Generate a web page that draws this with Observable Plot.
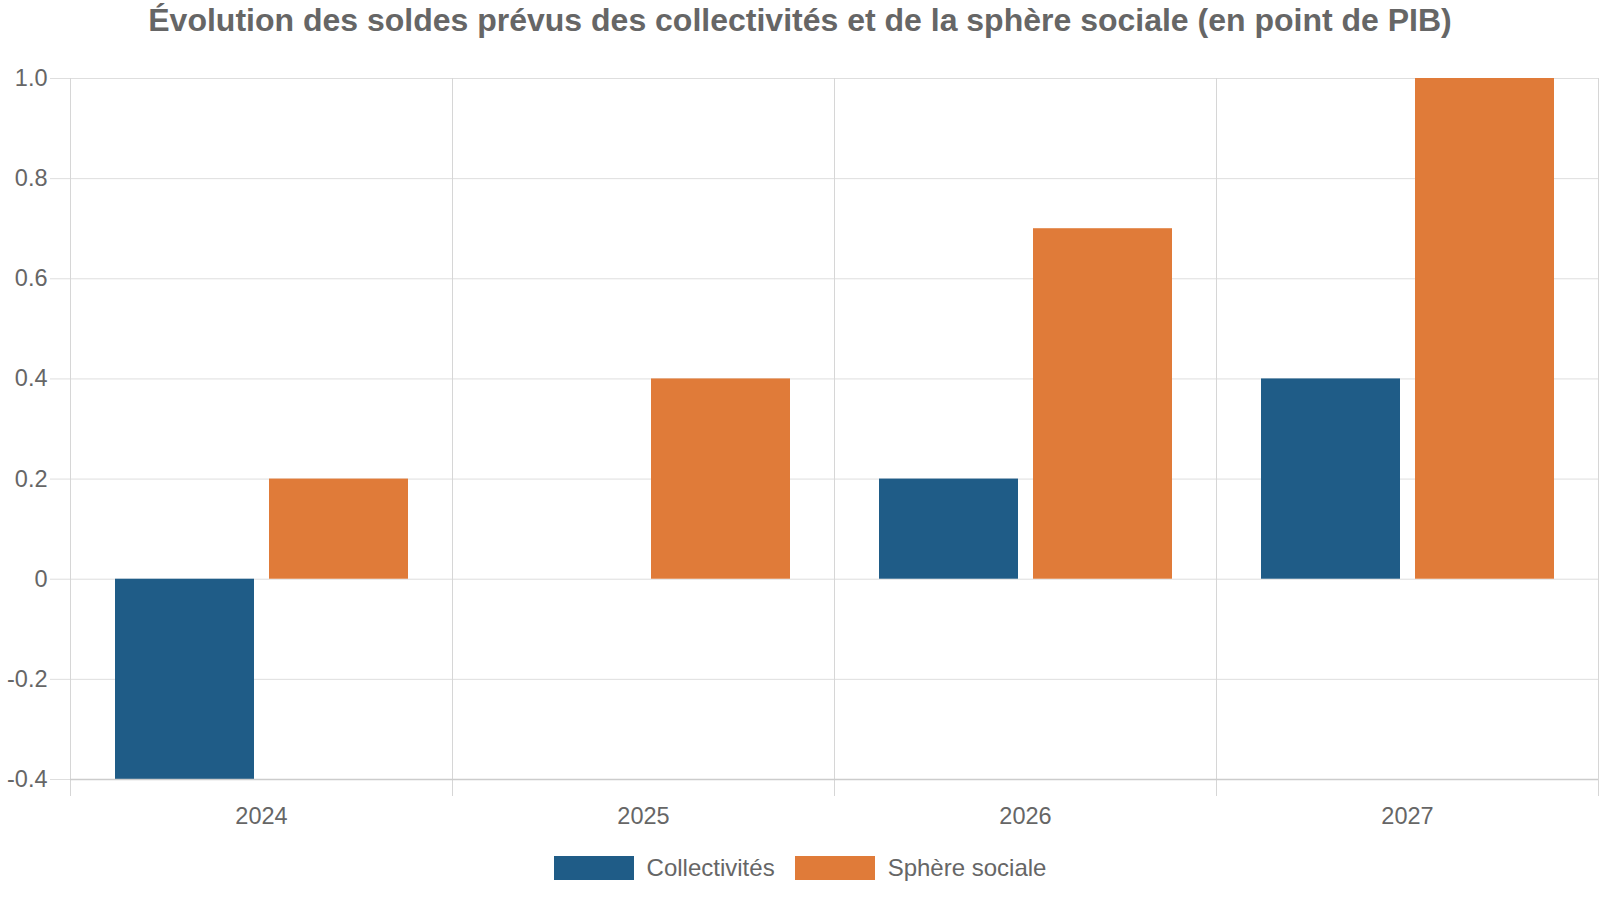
<!DOCTYPE html>
<html>
<head>
<meta charset="utf-8">
<script src="https://cdn.jsdelivr.net/npm/d3@7"></script>
<script src="https://cdn.jsdelivr.net/npm/@observablehq/plot@0.6"></script>
<style>
  html, body { margin: 0; padding: 0; background: #fff; }
  body { width: 1600px; height: 900px; overflow: hidden; font-family: "Liberation Sans", Arial, sans-serif; color: #666; }
  #title { height: 45px; line-height: 41px; font-size: 32px; font-weight: bold; text-align: center; color: #666; white-space: nowrap; }
  #chart svg { display: block; }
  #chart g[aria-label="y-axis tick"] path { stroke: #dedede; }
  #legend { display: flex; justify-content: center; align-items: center; margin-top: 21px; height: 24px; font-size: 24px; color: #666; }
  .item { display: flex; align-items: center; }
  .item + .item { margin-left: 20px; }
  .sw { width: 80px; height: 24px; margin-right: 13px; }
</style>
</head>
<body>
<div id="title">Évolution des soldes prévus des collectivités et de la sphère sociale (en point de PIB)</div>
<div id="chart"></div>
<div id="legend"></div>
<script>
const years = ["2024", "2025", "2026", "2027"];
const series = ["Collectivités", "Sphère sociale"];
const collectivites = [-0.4, 0, 0.2, 0.4];
const sphereSociale = [0.2, 0.4, 0.7, 1.0];
const colors = ["#1f5c87", "#e07b39"];
const yTicks = [-0.4, -0.2, 0, 0.2, 0.4, 0.6, 0.8, 1.0];

const rows = [];
years.forEach((y, i) => {
  rows.push({year: y, serie: series[0], value: collectivites[i]});
  rows.push({year: y, serie: series[1], value: sphereSociale[i]});
});

const fmt = d => d === 0 ? "0" : d.toFixed(1);

const chart = Plot.plot({
  width: 1600,
  height: 790,
  marginLeft: 68,
  marginRight: 1,
  marginTop: 33,
  marginBottom: 56,
  style: {fontFamily: "'Liberation Sans', Arial, sans-serif", fontSize: "23.5px", color: "#666", background: "#fff"},
  fx: {domain: years, padding: 0, axis: "bottom", tickSize: 0, tickPadding: 28, label: null},
  x: {domain: series, paddingInner: 0.1, paddingOuter: 0.29, axis: null},
  y: {domain: [-0.4, 1.0], ticks: yTicks, tickFormat: fmt, tickSize: 20, tickPadding: 3, label: null},
  color: {domain: series, range: colors},
  marks: [
    Plot.ruleY(yTicks.filter(d => d !== -0.4), {stroke: "#dedede"}),
    Plot.frame({anchor: "left", stroke: "#d6d6d6", insetBottom: -16}),
    Plot.frame({anchor: "right", stroke: "#d6d6d6", insetBottom: -16}),
    Plot.barY(rows, {fx: "year", x: "serie", y: "value", fill: "serie"}),
    Plot.ruleY([-0.4], {stroke: "#cccccc", strokeWidth: 1.5})
  ]
});
document.getElementById("chart").appendChild(chart);

const legend = document.getElementById("legend");
series.forEach((s, i) => {
  const item = document.createElement("div");
  item.className = "item";
  const sw = document.createElement("div");
  sw.className = "sw";
  sw.style.background = colors[i];
  const t = document.createElement("span");
  t.textContent = s;
  item.appendChild(sw);
  item.appendChild(t);
  legend.appendChild(item);
});
</script>
</body>
</html>
